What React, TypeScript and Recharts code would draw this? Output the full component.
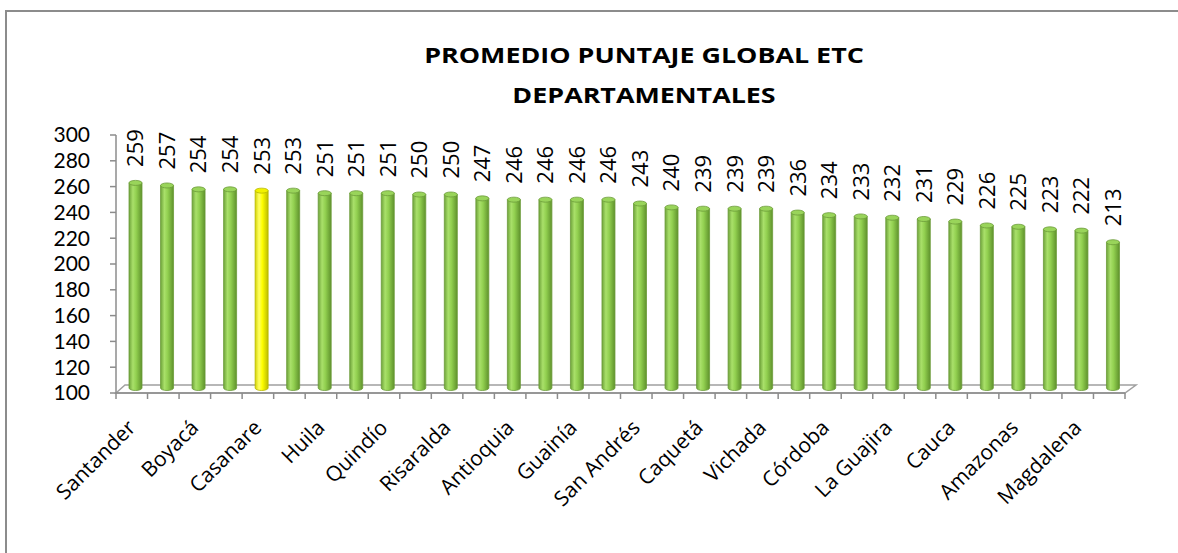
import React from "react";
import { Bar, BarChart, LabelList, XAxis, YAxis, usePlotArea } from "recharts";

const DEPARTAMENTOS = [
  "Santander", "Norte de Santander", "Boyacá", "Cundinamarca", "Casanare", "Meta",
  "Huila", "Caldas", "Quindío", "Nariño", "Risaralda", "Valle del Cauca",
  "Antioquia", "Tolima", "Guainía", "Arauca", "San Andrés", "Putumayo",
  "Caquetá", "Guaviare", "Vichada", "Atlántico", "Córdoba", "Sucre",
  "La Guajira", "Cesar", "Cauca", "Bolívar", "Amazonas", "Vaupés",
  "Magdalena", "Chocó",
];

const PUNTAJES = [
  259, 257, 254, 254, 253, 253, 251, 251, 251, 250, 250, 247, 246, 246, 246, 246,
  243, 240, 239, 239, 239, 236, 234, 233, 232, 231, 229, 226, 225, 223, 222, 213,
];

const RESALTADO = "Casanare";
const Y_TICKS = [100, 120, 140, 160, 180, 200, 220, 240, 260, 280, 300];

const datos = DEPARTAMENTOS.map((nombre, i) => ({ nombre, puntaje: PUNTAJES[i] }));

const FUENTE = "'Open Sans', 'Noto Sans', sans-serif";
const GRIS = "#8c8c8c";
// desplazamiento de la "profundidad" 3D
const DX = 4;
const DY = -5;

function Cilindro(props: any) {
  const { x, y, width, height, payload } = props;
  if (height == null || width == null) return null;
  const left = x + DX;
  const top = y + DY;
  const ry = 2.5;
  const amarillo = payload && payload.nombre === RESALTADO;
  const d = `M${left},${top} L${left},${top + height} A${width / 2},${ry} 0 0 0 ${left + width},${top + height} L${left + width},${top} Z`;
  return (
    <g>
      <path
        d={d}
        fill={amarillo ? "url(#cilAmarillo)" : "url(#cilVerde)"}
        stroke={amarillo ? "#b8b800" : "#6c9c3a"}
        strokeWidth={0.8}
      />
      <ellipse
        cx={left + width / 2}
        cy={top}
        rx={width / 2}
        ry={ry}
        fill={amarillo ? "#f2f200" : "#99d45a"}
        stroke={amarillo ? "#b8b800" : "#6c9c3a"}
        strokeWidth={0.8}
      />
    </g>
  );
}

function EtiquetaValor(props: any) {
  const { x, y, width, value } = props;
  const cx = x + width / 2 + DX;
  const ty = y + DY - 16;
  return (
    <text
      transform={`translate(${cx},${ty}) rotate(-90)`}
      textAnchor="start"
      dy="0.36em"
      fontSize={22}
      fontFamily={FUENTE}
      fill="#000"
    >
      {value}
    </text>
  );
}

function TickDepto(props: any) {
  const { x, y, payload, index } = props;
  const half = payload && payload.offset ? payload.offset : 15.8;
  const ultimo = index === DEPARTAMENTOS.length - 1;
  return (
    <g>
      <line x1={x - half} y1={y} x2={x - half} y2={y + 6} stroke={GRIS} strokeWidth={1.5} />
      {ultimo && (
        <line x1={x + half} y1={y} x2={x + half} y2={y + 6} stroke={GRIS} strokeWidth={1.5} />
      )}
      {index % 2 === 0 && (
        <text
          transform={`translate(${x + 5},${y + 36}) rotate(-45)`}
          textAnchor="end"
          fontSize={21}
          fontFamily={FUENTE}
          fill="#000"
        >
          {payload.value}
        </text>
      )}
    </g>
  );
}

function Piso() {
  const area = usePlotArea();
  if (!area) return null;
  const { x, y, width, height } = area;
  const b = y + height;
  return (
    <polygon
      points={`${x},${b} ${x + 9},${b - 8} ${x + width + 11},${b - 8} ${x + width},${b}`}
      fill="#fff"
      stroke="#a0a0a0"
      strokeWidth={1.5}
    />
  );
}

export default function App() {
  return (
    <div style={{ position: "absolute", left: 0, top: 0, width: 1178, height: 553, background: "#fff", overflow: "hidden" }}>
      <div
        style={{
          position: "absolute",
          left: 5,
          top: 10,
          width: 1300,
          height: 700,
          border: `2px solid ${GRIS}`,
          boxSizing: "border-box",
        }}
      />
      <div
        style={{
          position: "absolute",
          left: 144,
          top: 34,
          width: 1000,
          textAlign: "center",
          fontFamily: FUENTE,
          fontWeight: 700,
          fontSize: 22,
          lineHeight: "40px",
          color: "#000",
          transform: "scaleX(1.22)",
        }}
      >
        PROMEDIO PUNTAJE GLOBAL ETC
        <br />
        DEPARTAMENTALES
      </div>
      <div style={{ position: "absolute", left: 0, top: 0 }}>
        <BarChart
          width={1178}
          height={553}
          data={datos}
          margin={{ top: 135, right: 53, bottom: 30, left: 56 }}
          barSize={13}
        >
          <defs>
            <linearGradient id="cilVerde" x1="0" y1="0" x2="1" y2="0">
              <stop offset="0%" stopColor="#6ea33a" />
              <stop offset="30%" stopColor="#a9e06a" />
              <stop offset="55%" stopColor="#92d050" />
              <stop offset="100%" stopColor="#5f922c" />
            </linearGradient>
            <linearGradient id="cilAmarillo" x1="0" y1="0" x2="1" y2="0">
              <stop offset="0%" stopColor="#d4d400" />
              <stop offset="30%" stopColor="#ffff66" />
              <stop offset="55%" stopColor="#ffff00" />
              <stop offset="100%" stopColor="#bcbc00" />
            </linearGradient>
          </defs>
          <Piso />
          <XAxis
            dataKey="nombre"
            interval={0}
            height={130}
            tickSize={0}
            tickMargin={0}
            tickLine={false}
            axisLine={{ stroke: GRIS, strokeWidth: 1.5 }}
            tick={<TickDepto />}
          />
          <YAxis
            domain={[100, 300]}
            ticks={Y_TICKS}
            interval={0}
            width={60}
            tickSize={6}
            tickMargin={20}
            axisLine={{ stroke: GRIS, strokeWidth: 1.5 }}
            tickLine={{ stroke: GRIS, strokeWidth: 1.5 }}
            tick={{ fontSize: 21, fontFamily: "Lato, 'Open Sans', sans-serif", fill: "#000" }}
            allowDataOverflow
          />
          <Bar dataKey="puntaje" shape={<Cilindro />} isAnimationActive={false}>
            <LabelList dataKey="puntaje" content={<EtiquetaValor />} />
          </Bar>
        </BarChart>
      </div>
    </div>
  );
}
